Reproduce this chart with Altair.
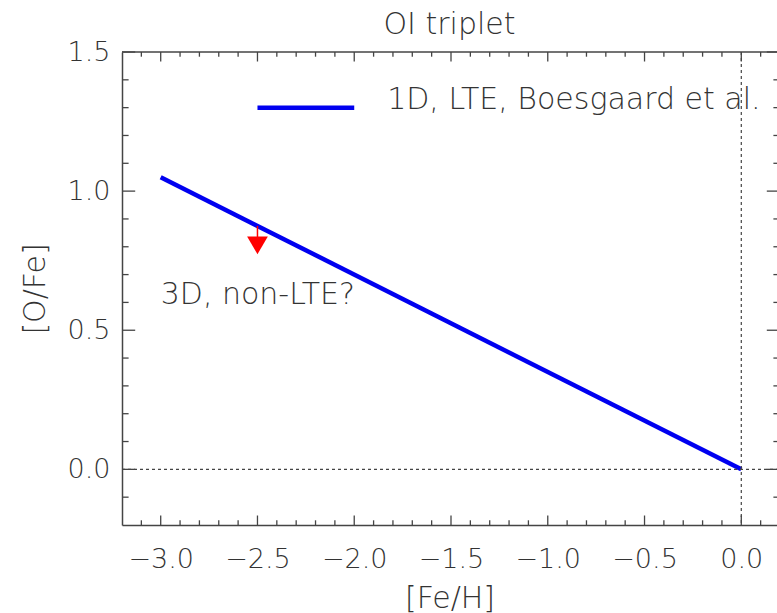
import altair as alt
import pandas as pd

# ---- data ----
fe_h = [-3.0, 0.0]
o_fe = [1.05, 0.0]

arrow_x = [-2.5]
arrow_top = [0.875]
arrow_stem_end = [0.835]
arrow_head_y = [0.805]

note_text = ["3D, non-LTE?"]
note_x = [-3.0]
note_y = [0.625]

legend_label = ["1D, LTE, Boesgaard et al."]
legend_line_x = [-2.5, -2.0]
legend_line_y = [1.30, 1.30]
legend_text_x = [-1.83]
legend_text_y = [1.326]

x_major = [-3.0, -2.5, -2.0, -1.5, -1.0, -0.5, 0.0]
x_minor = [-3.1, -2.9, -2.8, -2.7, -2.6, -2.4, -2.3, -2.2, -2.1, -1.9, -1.8,
           -1.7, -1.6, -1.4, -1.3, -1.2, -1.1, -0.9, -0.8, -0.7, -0.6, -0.4,
           -0.3, -0.2, -0.1, 0.1]
y_major = [0.0, 0.5, 1.0, 1.5]
y_minor = [-0.1, 0.1, 0.2, 0.3, 0.4, 0.6, 0.7, 0.8, 0.9, 1.1, 1.2, 1.3, 1.4]

# ---- style ----
FONT = "DejaVu Sans"
TXT = "#333333"
AX = "#444444"
W, H = 655, 473
XT_MAJ, XT_MIN = 9.5, 4.7      # tick lengths (px) on the top/bottom axes
YT_MAJ, YT_MIN = 13.2, 6.6     # tick lengths (px) on the left/right axes

X0, X1 = -3.2, 0.1845          # visible x range (the frame's right edge, 0.2, is just off-window)
X_FRAME = 0.2
Y0, Y1 = -0.2, 1.5

xs = alt.Scale(domain=[X0, X1], nice=False, zero=False)
ys = alt.Scale(domain=[Y0, Y1], nice=False, zero=False)

x_axis = alt.Axis(values=x_major, format=".1f", ticks=False, tickSize=0, grid=False,
                  domainColor=AX, domainWidth=1.5, labelFont=FONT, labelFontSize=27,
                  labelColor=TXT, labelPadding=21, labelFlush=False, labelOverlap=False,
                  labelFontWeight=200,
                  title="[Fe/H]", titleFont=FONT, titleFontSize=30, titleColor=TXT,
                  titleFontWeight=200, titleBaseline="alphabetic", titleY=82)
y_axis = alt.Axis(values=y_major, format=".1f", ticks=False, tickSize=0, grid=False,
                  domainColor=AX, domainWidth=1.5, labelFont=FONT, labelFontSize=27,
                  labelColor=TXT, labelPadding=12, labelFlush=False, labelOverlap=False,
                  labelFontWeight=200,
                  title="[O/Fe]", titleFont=FONT, titleFontSize=30, titleColor=TXT,
                  titleFontWeight=200, titleBaseline="alphabetic", titleX=-78,
                  titleY=H / 2, titleAngle=270)


def X(field="x", axis=None):
    return alt.X(f"{field}:Q", scale=xs, axis=axis)


def Y(field="y", axis=None):
    return alt.Y(f"{field}:Q", scale=ys, axis=axis)


# the layer that carries the labelled axes
line_df = pd.DataFrame({"x": fe_h, "y": o_fe})
main_line = alt.Chart(line_df).mark_line(color="#0000f0", strokeWidth=4.5).encode(
    x=X(axis=x_axis), y=Y(axis=y_axis))

# ---- inward tick segments on all four sides (built from the tick lists) ----
px_x = W / (X1 - X0)
px_y = H / (Y1 - Y0)
rows = []
for vals, length in ((x_major, XT_MAJ), (x_minor, XT_MIN)):
    dy = length / px_y
    for v in vals:
        rows.append({"x": v, "x2": v, "y": Y0, "y2": Y0 + dy})   # bottom
        rows.append({"x": v, "x2": v, "y": Y1, "y2": Y1 - dy})   # top
for vals, length in ((y_major, YT_MAJ), (y_minor, YT_MIN)):
    dx = length / px_x
    for v in vals:
        rows.append({"x": X0, "x2": X0 + dx, "y": v, "y2": v})        # left
        rows.append({"x": X_FRAME - dx, "x2": X1, "y": v, "y2": v})   # right
ticks_df = pd.DataFrame(rows)
ticks = alt.Chart(ticks_df).mark_rule(color=AX, strokeWidth=1.3).encode(
    x=X(), x2="x2:Q", y=Y(), y2="y2:Q")

zero_df = pd.DataFrame({"x": [0.0], "y": [0.0]})
hdot = alt.Chart(zero_df).mark_rule(color=AX, strokeWidth=1.2, strokeDash=[3, 3]).encode(
    y=Y(), x=alt.value(0), x2=alt.value(W))
vdot = alt.Chart(zero_df).mark_rule(color=AX, strokeWidth=1.2, strokeDash=[3, 3]).encode(
    x=X(), y=alt.value(0), y2=alt.value(H))

arrow_df = pd.DataFrame({"x": arrow_x, "y": arrow_top, "y2": arrow_stem_end,
                         "yh": arrow_head_y})
stem = alt.Chart(arrow_df).mark_rule(color="#ff0000", strokeWidth=1.5).encode(
    x=X(), y=Y(), y2="y2:Q")
head = alt.Chart(arrow_df).mark_point(shape="triangle-down", filled=True, size=430,
                                      color="#ff0000", opacity=1, strokeWidth=0).encode(
    x=X(), y=Y("yh"))

note_df = pd.DataFrame({"x": note_x, "y": note_y, "t": note_text})
note = alt.Chart(note_df).mark_text(align="left", baseline="middle", font=FONT,
                                    fontSize=30, fontWeight=200, color=TXT).encode(
    x=X(), y=Y(), text="t:N")

leg_line_df = pd.DataFrame({"x": legend_line_x, "y": legend_line_y})
leg_line = alt.Chart(leg_line_df).mark_line(color="#0000f0", strokeWidth=4.5).encode(
    x=X(), y=Y())
leg_txt_df = pd.DataFrame({"x": legend_text_x, "y": legend_text_y, "t": legend_label})
leg_txt = alt.Chart(leg_txt_df).mark_text(align="left", baseline="middle", font=FONT,
                                          fontSize=30, fontWeight=200, color=TXT).encode(
    x=X(), y=Y(), text="t:N")

top_frame = alt.Chart(zero_df).mark_rule(color=AX, strokeWidth=1.5).encode(
    x=alt.value(0), x2=alt.value(W), y=alt.value(0))

chart = alt.layer(
    main_line, hdot, vdot, stem, head, note, leg_line, leg_txt, top_frame, ticks
).resolve_axis(
    x="independent", y="independent"
).properties(
    width=W, height=H,
    title=alt.TitleParams(text="OI triplet", font=FONT, fontSize=30, fontWeight=200,
                          color=TXT, anchor="middle", baseline="alphabetic", offset=4,
                          dy=30),
    autosize=alt.AutoSizeParams(type="none"),
    padding={"left": 122, "top": 52, "right": 0, "bottom": 88},
    background="white",
).configure_view(stroke=None)

chart.save("out.html", embed_options={"renderer": "svg", "actions": False})
